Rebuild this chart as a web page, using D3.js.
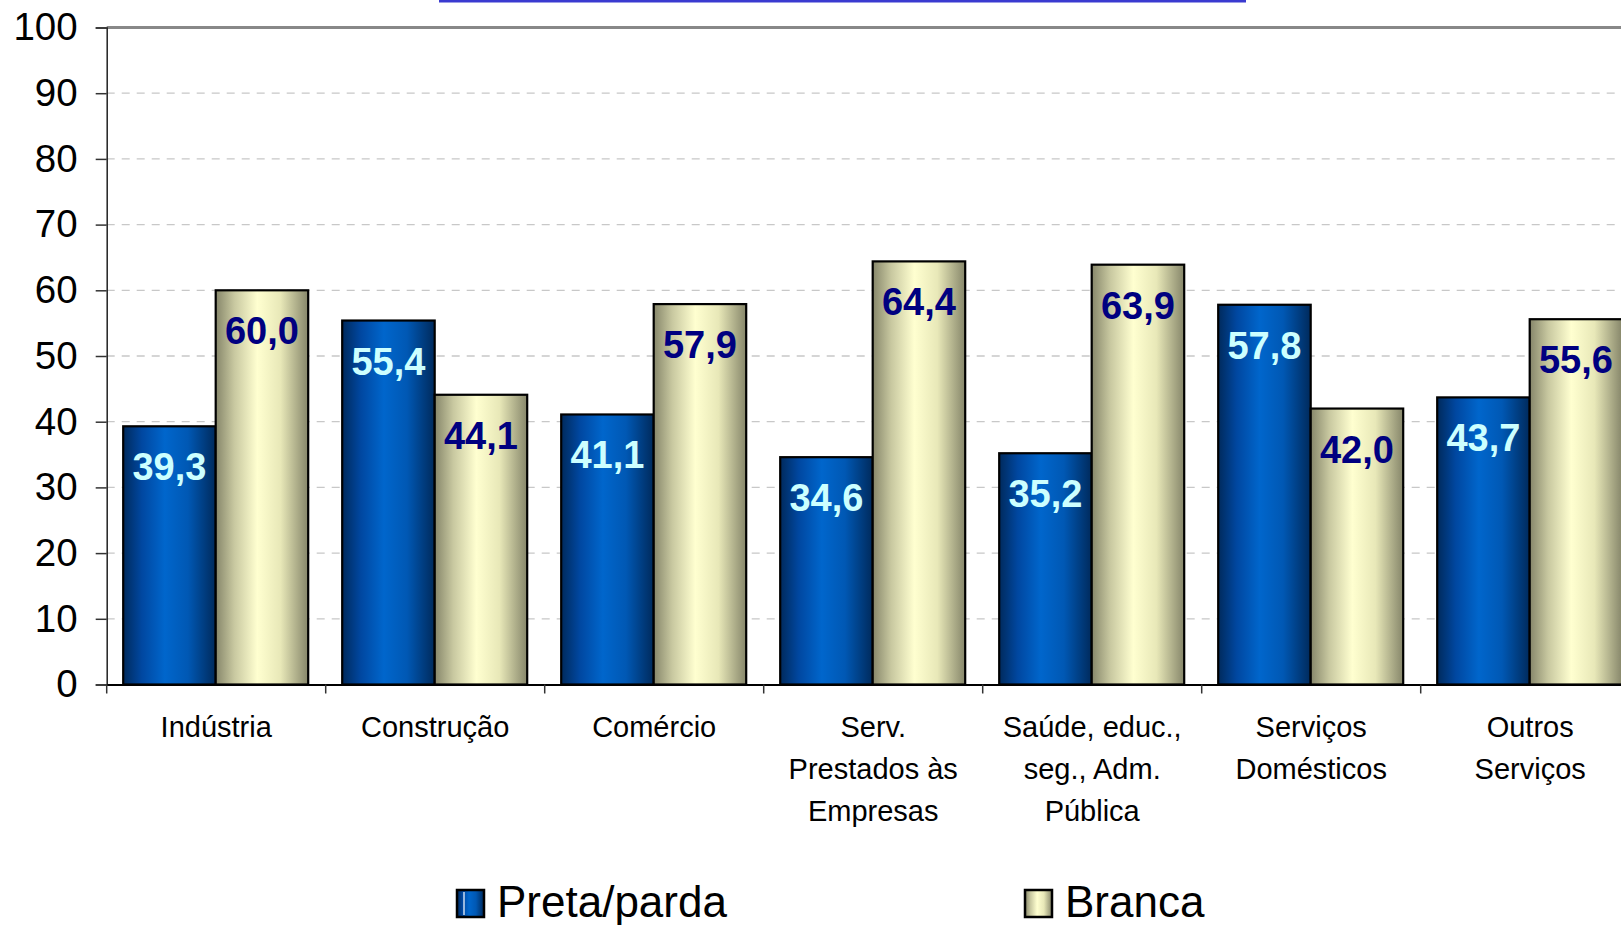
<!DOCTYPE html>
<html>
<head>
<meta charset="utf-8">
<script src="https://cdn.jsdelivr.net/npm/d3@7"></script>
<style>
  html, body { margin: 0; padding: 0; background: #fff; }
  svg { display: block; font-family: "Liberation Sans", Arial, sans-serif; }
</style>
</head>
<body>
<svg id="chart" width="1621" height="925"></svg>
<script>
  // categories (line breaks as in the original labels)
  const categories = [
    ["Indústria"],
    ["Construção"],
    ["Comércio"],
    ["Serv.", "Prestados às", "Empresas"],
    ["Saúde, educ.,", "seg., Adm.", "Pública"],
    ["Serviços", "Domésticos"],
    ["Outros", "Serviços"]
  ];
  const seriesNames = ["Preta/parda", "Branca"];
  const pretaParda = [39.3, 55.4, 41.1, 34.6, 35.2, 57.8, 43.7];
  const branca = [60.0, 44.1, 57.9, 64.4, 63.9, 42.0, 55.6];
  const yTicks = [0, 10, 20, 30, 40, 50, 60, 70, 80, 90, 100];

(function chart() {
  const svg = d3.select("#chart");
  const left = 106.7, bandW = 219;
  const plotTop = 27.5, plotBottom = 684.5;

  const catIdx = d3.range(categories.length);
  const x = d3.scaleBand().domain(catIdx).range([left, left + bandW * categories.length]);
  const xInner = d3.scaleBand().domain([0, 1]).range([16.5, bandW - 17.5]);
  const y = d3.scaleLinear().domain([0, 100]).range([plotBottom, plotTop]);

  // gradients
  const defs = svg.append("defs");
  function grad(id, stops) {
    const g = defs.append("linearGradient").attr("id", id)
      .attr("x1", "0%").attr("x2", "100%").attr("y1", "0%").attr("y2", "0%");
    stops.forEach(s => g.append("stop").attr("offset", s[0]).attr("stop-color", s[1]));
  }
  grad("gBlue", [["0%", "#002a5c"], ["20%", "#0047a0"], ["45%", "#0066cc"], ["70%", "#0058b4"], ["100%", "#002a5c"]]);
  grad("gBeige", [["0%", "#86866a"], ["20%", "#c8c8a0"], ["45%", "#ffffd0"], ["70%", "#e8e8b8"], ["100%", "#86866a"]]);

  // top blue line (cut-off title underline)
  svg.append("rect").attr("x", 439).attr("y", 0).attr("width", 807).attr("height", 2.5).attr("fill", "#3a3ad0");

  // gridlines
  svg.append("g").selectAll("line").data(yTicks.filter(t => t > 0 && t < 100)).enter()
    .append("line")
    .attr("x1", left).attr("x2", 1621)
    .attr("y1", d => y(d)).attr("y2", d => y(d))
    .attr("stroke", "#c8c8c8").attr("stroke-width", 1.3).attr("stroke-dasharray", "8,7");

  // top frame line at 100
  svg.append("line").attr("x1", left).attr("x2", 1621).attr("y1", y(100)).attr("y2", y(100))
    .attr("stroke", "#888").attr("stroke-width", 3);

  // y axis
  const yAxis = d3.axisLeft(y).tickValues(yTicks).tickSize(11).tickPadding(18).tickFormat(d3.format("d"));
  const gy = svg.append("g").attr("transform", `translate(${left},0)`).call(yAxis);
  gy.select(".domain").attr("stroke", "#222").attr("stroke-width", 1.5);
  gy.selectAll(".tick line").attr("stroke", "#333").attr("stroke-width", 1.5);
  gy.selectAll(".tick text").attr("font-size", 38.5).attr("fill", "#000")
    .attr("font-family", "'Liberation Sans', Arial, sans-serif");

  // bars
  const data = catIdx.map(i => [pretaParda[i], branca[i]]);
  const groups = svg.append("g").selectAll("g").data(data).enter().append("g")
    .attr("transform", (d, i) => `translate(${x(i)},0)`);

  groups.selectAll("rect").data(d => d).enter().append("rect")
    .attr("x", (d, j) => xInner(j))
    .attr("width", xInner.bandwidth())
    .attr("y", d => y(d))
    .attr("height", d => y(0) - y(d))
    .attr("fill", (d, j) => j === 0 ? "url(#gBlue)" : "url(#gBeige)")
    .attr("stroke", "#000").attr("stroke-width", 2.2);

  groups.selectAll("text").data(d => d).enter().append("text")
    .attr("x", (d, j) => xInner(j) + xInner.bandwidth() / 2)
    .attr("y", d => y(d) + 54)
    .attr("text-anchor", "middle")
    .attr("font-size", 38).attr("font-weight", "bold")
    .attr("fill", (d, j) => j === 0 ? "#ccffff" : "#000080")
    .text(d => d3.format(".1f")(d).replace(".", ","));

  // x axis
  const xAxis = d3.axisBottom(x).tickSize(0).tickFormat("");
  const gx = svg.append("g").attr("transform", `translate(0,${plotBottom})`).call(xAxis);
  gx.select(".domain").attr("stroke", "#000").attr("stroke-width", 2);
  gx.selectAll(".tick").remove();
  svg.append("g").selectAll("line").data(d3.range(categories.length + 1)).enter()
    .append("line")
    .attr("x1", i => left + i * bandW).attr("x2", i => left + i * bandW)
    .attr("y1", plotBottom).attr("y2", plotBottom + 9)
    .attr("stroke", "#333").attr("stroke-width", 1.5);

  // category labels
  const labels = svg.append("g").selectAll("text").data(categories).enter().append("text")
    .attr("x", (d, i) => x(i) + x.bandwidth() / 2)
    .attr("y", 737)
    .attr("text-anchor", "middle")
    .attr("font-size", 29).attr("fill", "#000");
  labels.selectAll("tspan").data(d => d).enter().append("tspan")
    .attr("x", function () { return this.parentNode.getAttribute("x"); })
    .attr("dy", (d, k) => k === 0 ? 0 : 42)
    .text(d => d);

  // legend
  const legendX = [457, 1025];
  const leg = svg.append("g").selectAll("g").data(seriesNames).enter().append("g")
    .attr("transform", (d, i) => `translate(${legendX[i]},890)`);
  leg.append("rect").attr("width", 27).attr("height", 27)
    .attr("fill", (d, i) => i === 0 ? "url(#gBlue)" : "url(#gBeige)")
    .attr("stroke", "#000").attr("stroke-width", 2.5);
  leg.filter((d, i) => i === 0).append("line")
    .attr("x1", 7).attr("x2", 7).attr("y1", 2).attr("y2", 25)
    .attr("stroke", "#fff").attr("stroke-width", 1.2);
  leg.append("text")
    .attr("x", 40).attr("y", 27)
    .attr("font-size", 44).attr("fill", "#000")
    .text(d => d);
})();
</script>
</body>
</html>
